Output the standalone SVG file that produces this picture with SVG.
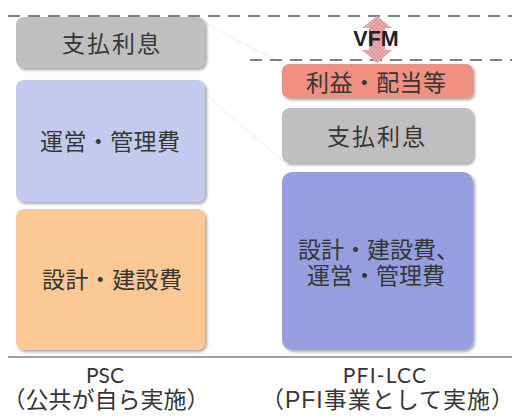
<svg xmlns="http://www.w3.org/2000/svg" width="520" height="416" viewBox="0 0 520 416">
<defs>
<filter id="sh" x="-10%" y="-10%" width="130%" height="130%">
<feDropShadow dx="2" dy="2" stdDeviation="1.5" flood-color="#000" flood-opacity="0.35"/>
</filter>
<pattern id="hatch" width="4" height="4" patternUnits="userSpaceOnUse">
<rect width="4" height="4" fill="#eab0b0"/>
<path d="M0,0 L4,4 M4,0 L0,4" stroke="#d98c8c" stroke-width="0.7"/>
</pattern>
<style>
.box{filter:url(#sh);}
.t{font-family:"Liberation Sans","Noto Sans CJK JP",sans-serif;fill:#363636;font-size:23px;}
.lat{font-family:Lato,"Liberation Sans",sans-serif;font-size:21px;fill:#363636;text-anchor:middle;}
.cap{text-anchor:middle;}
.dash{stroke:#808080;stroke-width:2;stroke-dasharray:12 8;fill:none;}
</style>
</defs>
<rect width="520" height="416" fill="#fff"/>
<g id="connectors">
<line x1="207" y1="24" x2="284" y2="64" stroke="#ececec" stroke-width="1"/>
<line x1="207" y1="96" x2="284" y2="162" stroke="#ececec" stroke-width="1"/>
</g>
<g id="guides">
<line class="dash" x1="8" y1="16" x2="512" y2="16"/>
<line class="dash" x1="250" y1="60" x2="512" y2="60"/>
<line x1="8" y1="357" x2="512" y2="357" stroke="#808080" stroke-width="1.5"/>
</g>
<g id="psc-interest">
<rect class="box" x="16" y="17" width="189" height="51" rx="8" fill="#bfbfbf"/>
<text class="t" x="62" y="51.5" letter-spacing="2">支払利息</text>
</g>
<g id="psc-operation">
<rect class="box" x="16" y="80" width="189" height="122" rx="8" fill="#c4caee"/>
<text class="t" x="40" y="150" letter-spacing="0.4">運営・管理費</text>
</g>
<g id="psc-construction">
<rect class="box" x="16" y="209" width="189" height="141" rx="8" fill="#fcc895"/>
<text class="t" x="42" y="288" letter-spacing="0.4">設計・建設費</text>
</g>
<g id="pfi-profit">
<rect class="box" x="282" y="64" width="191" height="34" rx="7" fill="#ef9080"/>
<text class="t" x="306" y="91" letter-spacing="0.4">利益・配当等</text>
</g>
<g id="pfi-interest">
<rect class="box" x="282" y="108" width="191" height="55" rx="8" fill="#bfbfbf"/>
<text class="t" x="327" y="145" letter-spacing="2">支払利息</text>
</g>
<g id="pfi-cost">
<rect class="box" x="282" y="172" width="191" height="178" rx="10" fill="#959fe0"/>
<text class="t"><tspan x="298" y="257.5">設計・建設費、</tspan><tspan x="307" y="283.5">運営・管理費</tspan></text>
</g>
<g id="vfm">
<path d="M377,16 L392,28 L385,28 L385,50 L392,50 L377,63 L362,50 L369,50 L369,28 L362,28 Z" fill="url(#hatch)"/>
<text x="376" y="46" text-anchor="middle" font-family="Liberation Sans, sans-serif" font-weight="bold" font-size="21.5" fill="#222">VFM</text>
</g>
<g id="psc-label">
<text class="lat" x="105" y="383">PSC</text>
<text class="t cap" x="106" y="408">（公共が自ら実施）</text>
</g>
<g id="pfi-label">
<text class="lat" x="385" y="383" letter-spacing="1.2">PFI-LCC</text>
<text class="t cap" x="388" y="408" letter-spacing="1">（PFI事業として実施）</text>
</g>
</svg>
